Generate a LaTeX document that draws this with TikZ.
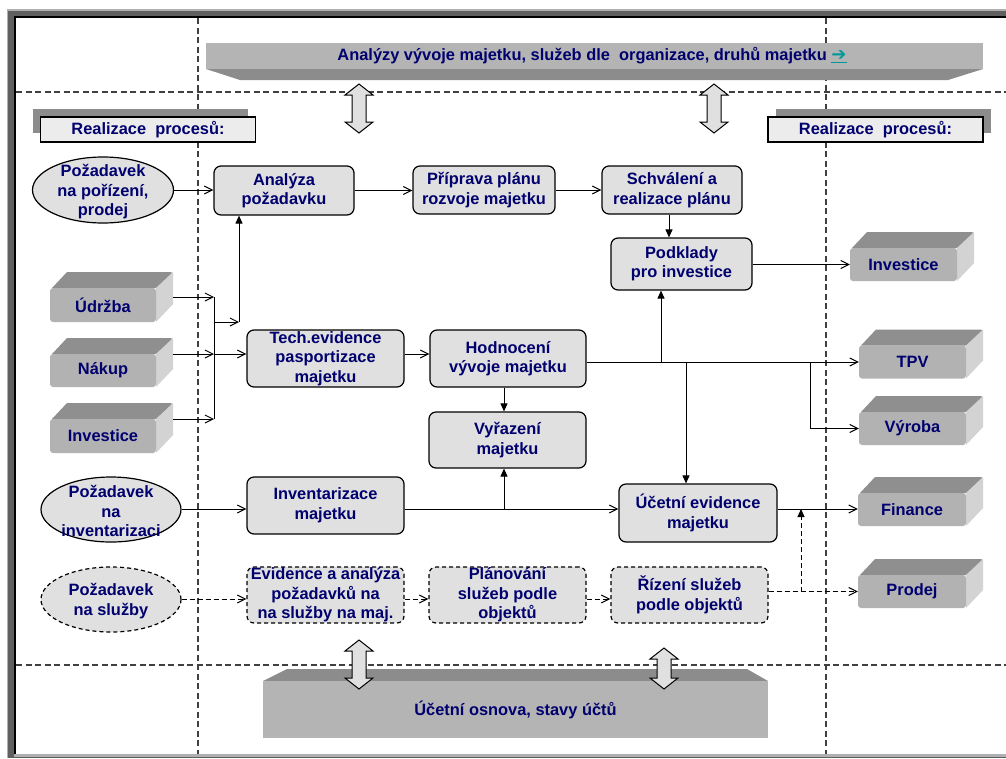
\documentclass[tikz,border=0pt]{standalone}
\usepackage{fontspec}
\setmainfont{Liberation Sans}
\newfontfamily\symfont{DejaVu Sans}
\usetikzlibrary{shapes.geometric,arrows.meta,calc}
\definecolor{txt}{RGB}{0,0,110}
\definecolor{boxfill}{RGB}{224,224,224}
\definecolor{facetop}{RGB}{143,143,143}
\definecolor{facefront}{RGB}{178,178,178}
\definecolor{faceside}{RGB}{211,211,211}
\definecolor{frlight}{RGB}{176,176,176}
\definecolor{frdark}{RGB}{96,96,96}
\definecolor{gridc}{RGB}{64,64,64}
\definecolor{arrowteal}{RGB}{0,153,153}
\definecolor{bannerlight}{RGB}{180,180,180}
\definecolor{bannerdark}{RGB}{140,140,140}
\definecolor{reallight}{RGB}{236,236,236}
\newcommand\dbarrow[3]{%
  \filldraw[fill=boxfill,draw=black,line width=1pt,line join=miter]
   (#1,#2) -- (#1+14,#2+11) -- (#1+7,#2+11) -- (#1+7,#3-11) -- (#1+14,#3-11)
   -- (#1,#3) -- (#1-14,#3-11) -- (#1-7,#3-11) -- (#1-7,#2+11) -- (#1-14,#2+11) -- cycle;}
\newcommand\cubeblock[6]{%
  \fill[facetop] (#2+2,#3) -- (#2+17,#3-16) -- (#2+#4+15,#3-16) -- (#2+#4+17,#3-14) -- (#2+#4,#3) -- cycle;
  \fill[faceside] (#2+#4,#3) -- (#2+#4+17,#3-16) -- (#2+#4+17,#3+#5-18) -- (#2+#4,#3+#5) -- cycle;
  \node[cubefront, minimum width=#4pt, minimum height=#5pt] (#1) at (#2+#4/2,#3+#5/2) {#6};}
\begin{document}
\begin{tikzpicture}[x=1pt,y=-1pt,
 lbl/.style={text=txt, font={\bfseries\fontsize{16.4}{19.5}\selectfont}, align=center, inner sep=0pt},
 box/.style={lbl, draw=black, line width=1.2pt, fill=boxfill, rounded corners=7pt},
 dbox/.style={box, dash pattern=on 4pt off 3pt},
 ellshape/.style={ellipse, draw=black, line width=1.2pt, fill=boxfill, inner sep=0pt},
 cubefront/.style={lbl, fill=facefront, rounded corners=3pt},
 conn/.style={line width=1pt, -{Straight Barb[length=8pt,width=8pt]}},
 dconn/.style={conn, dash pattern=on 5pt off 3pt},
 uparr/.style={line width=1pt, -{Triangle[length=8pt,width=7pt]}},
 dup/.style={uparr, dash pattern=on 5pt off 3pt},
 gridline/.style={draw=gridc, line width=1.2pt, dash pattern=on 6pt off 3.5pt},
 realbox/.style={lbl, draw=black, line width=1.2pt, fill=reallight, minimum width=215pt, minimum height=25pt},
]
\useasboundingbox (0,0) rectangle (1006,758);
% frame
\fill[frlight] (7,9) rectangle (1006,758);
\fill[frdark] (8,11) rectangle (1006,758);
\fill[black] (14,16) rectangle (1006,755);
\fill[white] (16,18) rectangle (1006,754);
\fill[frlight] (14,754) rectangle (1006,757);
% grid
\draw[gridline] (198,18) -- (198,754);
\draw[gridline] (826,18) -- (826,754);
\draw[gridline] (16,92) -- (1006,92);
\draw[gridline] (16,665) -- (1006,665);
% top banner
\fill[bannerlight] (206,43) rectangle (983,69);
\fill[bannerdark] (206,69) -- (983,69) -- (948,80) -- (240,80) -- cycle;
\node[lbl] (topban) at (592,56) {Analýzy vývoje majetku, služeb dle\ \ organizace, druhů majetku {\color{arrowteal}\underline{\symfont\bfseries\fontsize{18}{18}\selectfont ➔}}};
% bottom banner
\fill[bannerdark] (287,669) -- (747,669) -- (768,681) -- (263,681) -- cycle;
\fill[bannerlight] (263,681) rectangle (768,738);
\node[lbl] (botban) at (515.5,710) {Účetní osnova, stavy účtů};
% realizace boxes
\fill[bannerdark] (33,109) rectangle (248,133);
\node[realbox] (realL) at (148,129.5) {Realizace\ \ procesů:};
\fill[bannerdark] (776,109) rectangle (991,133);
\node[realbox] (realR) at (875.5,129.5) {Realizace\ \ procesů:};
% double arrows
\dbarrow{359}{84}{133}
\dbarrow{714}{84}{133}
\dbarrow{359}{640}{689}
\dbarrow{664}{648}{689}
% cubes
\cubeblock{udrzba}{50}{288}{106}{34}{Údržba}
\cubeblock{nakup}{50}{354}{106}{33}{Nákup}
\cubeblock{invL}{50}{419}{106}{34}{Investice}
\cubeblock{invR}{850}{248}{107}{33}{Investice}
\cubeblock{tpv}{859}{345.5}{107}{33}{TPV}
\cubeblock{vyroba}{859}{412}{107}{33}{Výroba}
\cubeblock{finance}{858}{493}{108}{33}{Finance}
\cubeblock{prodej}{858}{575}{108}{33}{Prodej}
% ellipses
\node[ellshape, minimum width=141pt, minimum height=66pt] (ell1) at (103,190) {};
\node[lbl] (ell1t) at (103,192) {Požadavek\\na pořízení,\\prodej};
\node[ellshape, minimum width=140pt, minimum height=65pt] (ell2) at (111,509.5) {};
\node[lbl] (ell2t) at (111,511) {Požadavek\\na\\inventarizaci};
\node[ellshape, dash pattern=on 4pt off 3pt, minimum width=140pt, minimum height=65pt] (ell3) at (111,599.5) {};
\node[lbl] (ell3t) at (111,601) {Požadavek\\na služby};
% boxes
\node[box, minimum width=140pt, minimum height=49pt] (analyza) at (284,190.5) {Analýza\\požadavku};
\node[box, minimum width=142pt, minimum height=48pt] (priprava) at (484,190) {Příprava plánu\\rozvoje majetku};
\node[box, minimum width=140pt, minimum height=48pt] (schvaleni) at (672,190) {Schválení a\\realizace plánu};
\node[box, minimum width=141pt, minimum height=52pt] (podklady) at (681.5,264) {Podklady\\pro investice};
\node[box, minimum width=157pt, minimum height=57pt] (tech) at (325.5,358.5) {Tech.evidence\\pasportizace\\majetku};
\node[box, minimum width=156pt, minimum height=57pt] (hodn) at (508,358.5) {Hodnocení\\vývoje majetku};
\node[box, minimum width=157pt, minimum height=56pt] (vyraz) at (507.5,440) {Vyřazení\\majetku};
\node[box, minimum width=157pt, minimum height=57pt] (inv) at (325.5,505.5) {Inventarizace\\majetku};
\node[box, minimum width=158pt, minimum height=58pt] (ucetni) at (698,513) {Účetní evidence\\majetku};
\node[dbox, minimum width=157pt, minimum height=56pt] (evid) at (325.5,595) {Evidence a analýza\\požadavků na\\na služby na maj.};
\node[dbox, minimum width=157pt, minimum height=56pt] (plan) at (507.5,595) {Plánování\\služeb podle\\objektů};
\node[dbox, minimum width=157pt, minimum height=56pt] (rizeni) at (689.5,595) {Řízení služeb\\podle objektů};
% helper coordinates
\coordinate (udrzbaOut) at (173,297);
\coordinate (nakupOut) at (173,354);
\coordinate (invLOut) at (173,419);
\coordinate (busTop) at (214,297);
\coordinate (busMid) at (214,354);
\coordinate (busBot) at (214,419);
\coordinate (busUp) at (214,322);
\coordinate (corner) at (239,322);
\coordinate (b1) at (661,362);
\coordinate (b2) at (686,362);
\coordinate (b3) at (810,362);
\coordinate (x504) at (504,0);
\coordinate (iy) at (0,509);
\coordinate (sy) at (0,599);
\coordinate (x801) at (801,0);
% connectors row 1
\draw[conn] (ell1.east) -- (ell1.east -| analyza.west);
\draw[conn] (analyza.east) -- (analyza.east -| priprava.west);
\draw[conn] (priprava.east) -- (priprava.east -| schvaleni.west);
\draw[uparr] ([xshift=-3pt]schvaleni.south) -- ([xshift=-3pt]schvaleni.south |- podklady.north);
\draw[conn] (podklady.east |- invR.west) -- (invR.west);
% bus
\draw[conn] (udrzbaOut) -- (busTop);
\draw[conn] (nakupOut) -- (busMid);
\draw[conn] (invLOut) -- (busBot);
\draw[line width=1pt] (busTop) -- (busBot);
\draw[conn] (busUp) -- (corner);
\draw[uparr] (corner) -- (corner |- analyza.south);
\draw[conn] (busMid) -- (busMid -| tech.west);
\draw[conn] (busMid -| tech.east) -- (busMid -| hodn.west);
% Hodnoceni outputs
\draw[conn] (hodn.east |- tpv.west) -- (tpv.west);
\draw[uparr] (b1) -- (b1 |- podklady.south);
\draw[uparr] (b2) -- (b2 |- ucetni.north);
\draw[conn] (b3) -- (b3 |- vyroba.west) -- (vyroba.west);
\draw[uparr] (hodn.south -| x504) -- (vyraz.north -| x504);
% inventarizace row
\draw[conn] (ell2.east |- iy) -- (inv.west |- iy);
\draw[conn] (inv.east |- iy) -- (ucetni.west |- iy);
\draw[uparr] (x504 |- iy) -- (x504 |- vyraz.south);
\draw[conn] (ucetni.east |- iy) -- (finance.west |- iy);
% services row
\draw[dconn] (ell3.east |- sy) -- (evid.west |- sy);
\draw[dconn] (evid.east |- sy) -- (plan.west |- sy);
\draw[dconn] (plan.east |- sy) -- (rizeni.west |- sy);
\draw[dconn] (rizeni.east |- prodej.west) -- (prodej.west);
\draw[dup] (x801 |- prodej.west) -- (x801 |- iy);
\end{tikzpicture}
\end{document}
